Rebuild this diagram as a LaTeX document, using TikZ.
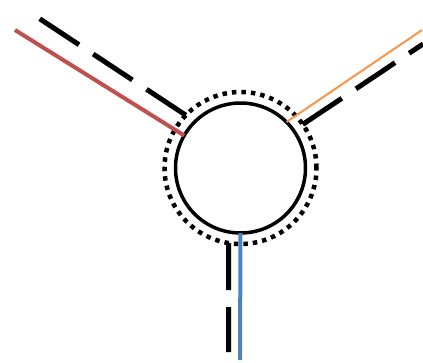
\documentclass[tikz,border=0pt]{standalone}
\usepackage{tikz}
\usetikzlibrary{positioning, calc}
\definecolor{armred}{RGB}{192,80,77}
\definecolor{armorange}{RGB}{247,150,70}
\definecolor{armblue}{RGB}{79,129,189}

\begin{document}
\begin{tikzpicture}[
    x=1pt, y=-1pt,
    hubring/.style={circle, draw, line width=3.5pt, inner sep=0pt, outer sep=0pt, minimum size=130pt},
    dotring/.style={circle, draw, line width=4.5pt, dash pattern=on 4.5pt off 5pt, inner sep=0pt, outer sep=0pt, minimum size=152pt},
    longdash/.style={line width=5pt, dash pattern=on 47pt off 17pt},
]
\useasboundingbox (0,0) rectangle (423,362);

\node[hubring] (hub) at (240.5,168) {};
\node[dotring] (ring) at (240.5,168) {};

% free ends of the arms
\coordinate (redend) at (15,30);
\coordinate (orangeend) at (422,30);
\coordinate (blueend) at (240,360);
\coordinate (leftend) at (37,17);
\coordinate (rightend) at (423,44);
\coordinate (downend) at (228.6,352);

\draw[armred, line width=4pt] (redend) -- (hub.150);
\draw[armorange, line width=2pt] (orangeend) -- (hub.45);
\draw[armblue, line width=4pt] (hub.south) -- (blueend);

\draw[longdash] (ring.136) -- (leftend);
\draw[longdash] (ring.35) -- (rightend);
\draw[longdash] (ring.261) -- (downend);
\end{tikzpicture}
\end{document}
